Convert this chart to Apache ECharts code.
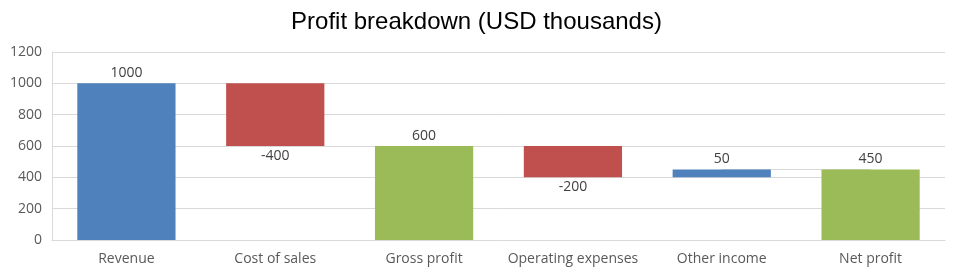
<!DOCTYPE html>
<html>
<head>
<meta charset="utf-8">
<script src="https://cdn.jsdelivr.net/npm/echarts@6/dist/echarts.min.js"></script>
<style>
  html, body { margin: 0; padding: 0; background: #fff; }
  #chart { width: 953px; height: 276px; }
</style>
</head>
<body>
<div id="chart"></div>
<script>
// waterfall: 每个类别的变动值，total 为累计小计
const categories = ['Revenue', 'Cost of sales', 'Gross profit', 'Operating expenses', 'Other income', 'Net profit']
const changes = [1000, -400, 600, -200, 50, 450]
const isTotal = [true, false, true, false, false, true]
const yTicks = [0, 200, 400, 600, 800, 1000, 1200]

const BLUE = '#4F81BD'
const RED = '#C0504D'
const GREEN = '#9BBB59'

// 计算透明底座和可见柱高，顺便记录每根柱子结束时的累计值（用于连接线）
const base = []
const visible = []
const levels = []
let running = 0
changes.forEach((v, i) => {
  if (isTotal[i]) {
    base.push(0)
    visible.push({ value: v, itemStyle: { color: i === 0 ? BLUE : GREEN }, label: { position: 'top' } })
    running = v
  } else if (v >= 0) {
    base.push(running)
    visible.push({ value: v, itemStyle: { color: BLUE }, label: { position: 'top' } })
    running += v
  } else {
    running += v
    base.push(running)
    visible.push({ value: -v, itemStyle: { color: RED }, label: { position: 'bottom' } })
  }
  levels.push(running)
})

// 相邻柱之间的连接线（画在柱子下面）
const connectors = []
for (let i = 0; i < categories.length - 1; i++) {
  connectors.push([
    { coord: [categories[i], levels[i]] },
    { coord: [categories[i + 1], levels[i]] }
  ])
}

const chart = echarts.init(document.getElementById('chart'))
chart.setOption({
  animation: false,
  title: {
    text: 'Profit breakdown (USD thousands)',
    left: 'center',
    top: 5,
    textStyle: { fontFamily: 'Liberation Sans', fontSize: 24, fontWeight: 'normal', color: '#000' }
  },
  grid: { left: 52, right: 8, top: 52, bottom: 36 },
  xAxis: {
    type: 'category',
    data: categories,
    axisLine: { lineStyle: { color: '#d9d9d9' } },
    axisTick: { show: false },
    axisLabel: { interval: 0, color: '#595959', fontSize: 14, fontFamily: 'Open Sans', margin: 12 }
  },
  yAxis: {
    type: 'value',
    min: yTicks[0],
    max: yTicks[yTicks.length - 1],
    interval: 200,
    axisLine: { show: true, lineStyle: { color: '#d9d9d9' } },
    splitLine: { lineStyle: { color: '#d9d9d9' } },
    axisLabel: { color: '#595959', fontSize: 14, fontFamily: 'Open Sans', margin: 10, formatter: v => String(v) }
  },
  series: [
    {
      type: 'bar',
      stack: 'wf',
      data: base,
      z: 1,
      itemStyle: { color: 'transparent' },
      silent: true,
      barWidth: '66%',
      markLine: {
        silent: true,
        z: 1,
        symbol: 'none',
        label: { show: false },
        lineStyle: { color: '#d9d9d9', type: 'solid', width: 1 },
        data: connectors
      }
    },
    {
      type: 'bar',
      stack: 'wf',
      data: visible,
      z: 5,
      barWidth: '66%',
      label: {
        show: true,
        color: '#404040',
        fontSize: 14,
        fontFamily: 'Open Sans',
        distance: 3,
        formatter: p => String(changes[p.dataIndex])
      }
    }
  ]
})
</script>
</body>
</html>
